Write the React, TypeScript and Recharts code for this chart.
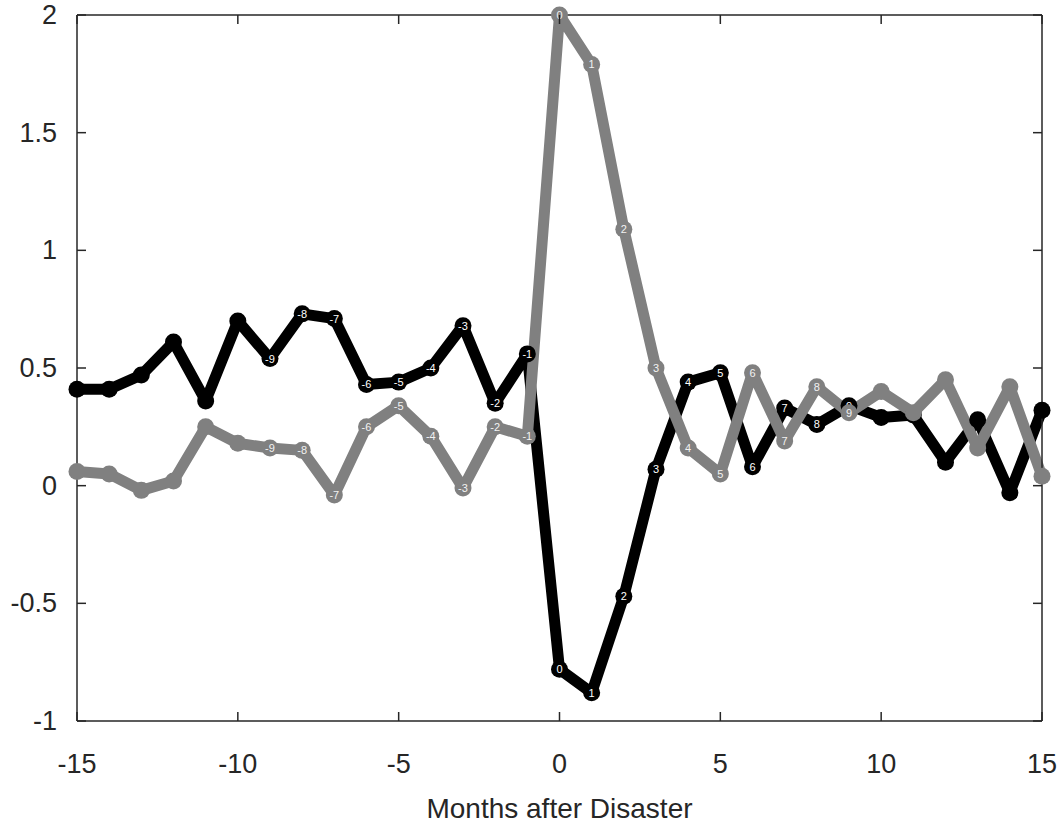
import { LineChart, Line, XAxis, YAxis, Label } from 'recharts'

const MONTHS = [-15, -14, -13, -12, -11, -10, -9, -8, -7, -6, -5, -4, -3, -2, -1, 0, 1, 2, 3, 4, 5, 6, 7, 8, 9, 10, 11, 12, 13, 14, 15]
const BLACK_SERIES = [0.41, 0.41, 0.47, 0.61, 0.36, 0.70, 0.54, 0.73, 0.71, 0.43, 0.44, 0.50, 0.68, 0.35, 0.56, -0.78, -0.88, -0.47, 0.07, 0.44, 0.48, 0.08, 0.33, 0.26, 0.34, 0.29, 0.30, 0.10, 0.28, -0.03, 0.32]
const GRAY_SERIES = [0.06, 0.05, -0.02, 0.02, 0.25, 0.18, 0.16, 0.15, -0.04, 0.25, 0.34, 0.21, -0.01, 0.25, 0.21, 2.0, 1.79, 1.09, 0.50, 0.16, 0.05, 0.48, 0.19, 0.42, 0.31, 0.40, 0.31, 0.45, 0.16, 0.42, 0.04]
const LABELED_MONTHS = [-9, -8, -7, -6, -5, -4, -3, -2, -1, 0, 1, 2, 3, 4, 5, 6, 7, 8, 9]
const X_TICKS = [-15, -10, -5, 0, 5, 10, 15]
const Y_TICKS = [-1, -0.5, 0, 0.5, 1, 1.5, 2]

const data = MONTHS.map((m, i) => ({ month: m, a: BLACK_SERIES[i], b: GRAY_SERIES[i] }))

const AXIS = '#262626'
const TEXT = '#262626'
const FONT = '"Liberation Sans", Arial, sans-serif'
const TICK_LEN = 9

const makeDot = (fill: string, textFill: string) => (props: any) => {
  const { cx, cy, payload, index } = props
  if (cx == null || cy == null) return <g key={index} />
  const showLabel = LABELED_MONTHS.includes(payload.month)
  return (
    <g key={index}>
      <circle cx={cx} cy={cy} r={8.5} fill={fill} />
      {showLabel && (
        <text x={cx} y={cy} textAnchor="middle" dominantBaseline="central" fontSize={11} fill={textFill} fontFamily={FONT}>
          {payload.month}
        </text>
      )}
    </g>
  )
}

const BottomTick = (props: any) => {
  const { x, y, payload } = props
  const axisY = y - 4
  return (
    <g>
      <line x1={x} y1={axisY} x2={x} y2={axisY - TICK_LEN} stroke={AXIS} strokeWidth={1.5} />
      <text x={x} y={axisY + 43} textAnchor="middle" dominantBaseline="central" fontSize={27} fill={TEXT} fontFamily={FONT}>
        {payload.value}
      </text>
    </g>
  )
}

const LeftTick = (props: any) => {
  const { x, y, payload } = props
  const axisX = x + 4
  return (
    <g>
      <line x1={axisX} y1={y} x2={axisX + TICK_LEN} y2={y} stroke={AXIS} strokeWidth={1.5} />
      <text x={axisX - 20} y={y} textAnchor="end" dominantBaseline="central" fontSize={27} fill={TEXT} fontFamily={FONT}>
        {payload.value}
      </text>
    </g>
  )
}

const TopTick = (props: any) => {
  const { x, y } = props
  const axisY = y + 1
  return <line x1={x} y1={axisY} x2={x} y2={axisY + TICK_LEN} stroke={AXIS} strokeWidth={1.5} />
}

const RightTick = (props: any) => {
  const { x, y } = props
  const axisX = x - 1
  return <line x1={axisX} y1={y} x2={axisX - TICK_LEN} y2={y} stroke={AXIS} strokeWidth={1.5} />
}

const AxisTitle = (props: any) => {
  const vb = props.viewBox
  return (
    <text x={vb.x + vb.width / 2} y={vb.y + 87} textAnchor="middle" dominantBaseline="central" fontSize={28} fill={TEXT} fontFamily={FONT}>
      Months after Disaster
    </text>
  )
}

export default function App() {
  return (
    <div style={{ position: 'absolute', left: 0, top: 0, width: 1064, height: 826, background: '#fff' }}>
      <LineChart width={1064} height={826} data={data} margin={{ top: 14, right: 21, bottom: 0, left: 0 }}>
        <XAxis
          dataKey="month"
          type="number"
          domain={[-15, 15]}
          ticks={X_TICKS}
          height={105}
          tickSize={0}
          tickMargin={4}
          tickLine={false}
          axisLine={{ stroke: AXIS, strokeWidth: 1.5 }}
          tick={BottomTick}
        >
          <Label content={AxisTitle} />
        </XAxis>
        <XAxis
          xAxisId="top"
          dataKey="month"
          type="number"
          orientation="top"
          domain={[-15, 15]}
          ticks={X_TICKS}
          height={1}
          tickSize={0}
          tickMargin={1}
          tickLine={false}
          axisLine={{ stroke: AXIS, strokeWidth: 1.5 }}
          tick={TopTick}
        />
        <YAxis
          type="number"
          domain={[-1, 2]}
          ticks={Y_TICKS}
          width={77}
          tickSize={0}
          tickMargin={4}
          tickLine={false}
          axisLine={{ stroke: AXIS, strokeWidth: 1.5 }}
          tick={LeftTick}
        />
        <YAxis
          yAxisId="right"
          orientation="right"
          type="number"
          domain={[-1, 2]}
          ticks={Y_TICKS}
          width={1}
          tickSize={0}
          tickMargin={1}
          tickLine={false}
          axisLine={{ stroke: AXIS, strokeWidth: 1.5 }}
          tick={RightTick}
        />
        <Line
          dataKey="a"
          stroke="#000000"
          strokeWidth={11}
          strokeLinejoin="round"
          dot={makeDot('#000000', '#ffffff')}
          activeDot={false}
          isAnimationActive={false}
        />
        <Line
          dataKey="b"
          xAxisId="top"
          yAxisId="right"
          stroke="#808080"
          strokeWidth={11}
          strokeLinejoin="round"
          dot={makeDot('#808080', '#f2f2f2')}
          activeDot={false}
          isAnimationActive={false}
        />
      </LineChart>
    </div>
  )
}
